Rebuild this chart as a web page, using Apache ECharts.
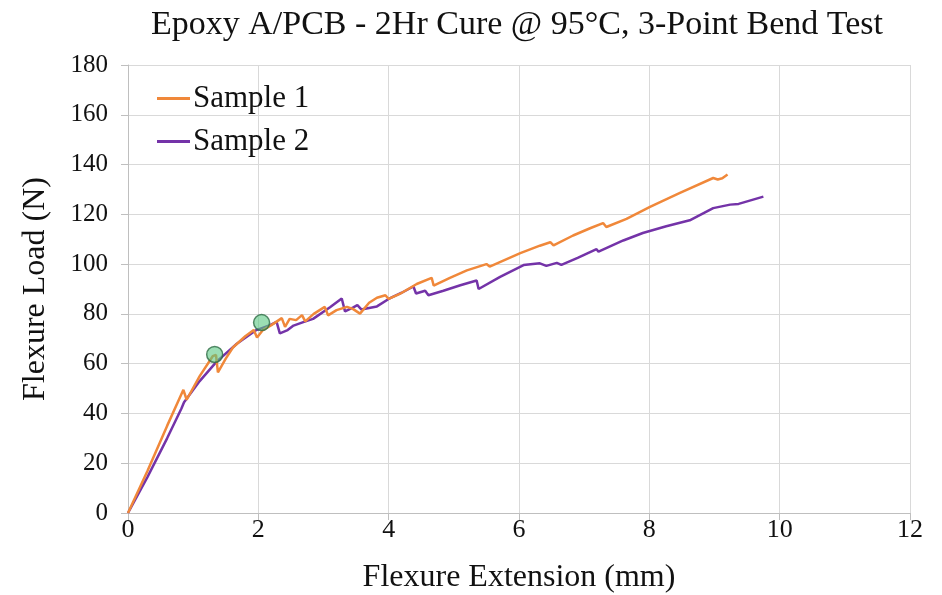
<!DOCTYPE html>
<html>
<head>
<meta charset="utf-8">
<script src="https://cdn.jsdelivr.net/npm/echarts@6/dist/echarts.min.js"></script>
<style>
  html, body { margin: 0; padding: 0; background: #fff; }
  #chart { width: 942px; height: 595px; }
</style>
</head>
<body>
<div id="chart"></div>
<script>
// [extension mm, load N]
var sample1 = [
  [0, 0], [0.3, 17], [0.6, 35], [0.85, 49.5], [0.9, 45.5], [1.1, 55], [1.3, 63], [1.35, 63.5],
  [1.38, 56.5], [1.5, 62], [1.61, 66.5], [1.8, 71], [1.93, 73.5], [1.98, 70.5], [2.07, 73.5],
  [2.2, 75.5], [2.36, 78.3], [2.41, 74.8], [2.48, 78], [2.58, 77.5], [2.67, 79.5], [2.72, 77],
  [2.85, 80], [3.02, 82.8], [3.07, 79.4], [3.2, 81.5], [3.36, 82.8], [3.45, 82], [3.56, 80.1],
  [3.7, 84.5], [3.82, 86.5], [3.95, 87.5], [4.0, 86], [4.17, 88], [4.43, 92], [4.66, 94.5],
  [4.69, 91.4], [4.94, 94.5], [5.2, 97.5], [5.5, 100], [5.55, 99], [6.02, 104.4], [6.32, 107.4],
  [6.48, 108.8], [6.53, 107.5], [6.83, 111.5], [7.1, 114.5], [7.29, 116.5], [7.34, 114.9],
  [7.65, 118.2], [8.01, 123], [8.47, 128.6], [8.98, 134.6], [9.05, 134], [9.12, 134.5], [9.2, 136]
];
var sample2 = [
  [0, 0], [0.3, 14.5], [0.6, 30], [0.82, 42], [0.86, 44.5], [1.1, 53], [1.36, 60.8], [1.67, 68],
  [1.97, 73.5], [2.18, 75.5], [2.28, 76.8], [2.33, 72.2], [2.45, 73.5], [2.54, 75.3], [2.69, 76.7],
  [2.84, 78], [3.1, 82.7], [3.28, 86.2], [3.33, 81], [3.45, 82.5], [3.52, 83.5], [3.58, 81.8],
  [3.82, 83], [4.0, 86], [4.2, 88.5], [4.38, 91], [4.42, 88.2], [4.56, 89.3], [4.61, 87.5],
  [4.84, 89.3], [5.1, 91.5], [5.35, 93.4], [5.38, 90], [5.71, 94.9], [6.07, 99.6], [6.32, 100.3],
  [6.42, 99.3], [6.58, 100.5], [6.65, 99.7], [6.9, 102.5], [7.19, 106], [7.22, 105], [7.6, 109.5],
  [7.9, 112.5], [8.26, 115.2], [8.47, 116.6], [8.62, 117.6], [8.98, 122.5], [9.24, 123.9],
  [9.37, 124.2], [9.75, 127.1]
];
var marks = [[1.33, 63.7], [2.05, 76.5]];

var seriesNames = ['Sample 1', 'Sample 2'];
var xTicks = { min: 0, max: 12, interval: 2 };
var yTicks = { min: 0, max: 180, interval: 20 };

var serif = '"Liberation Serif", "DejaVu Serif", serif';
var chart = echarts.init(document.getElementById('chart'));

chart.setOption({
  animation: false,
  backgroundColor: '#fff',
  title: {
    text: 'Epoxy A/PCB - 2Hr Cure @ 95°C, 3-Point Bend Test',
    left: 146,
    top: 3,
    textStyle: { fontFamily: serif, fontSize: 34, fontWeight: 'normal', color: '#111' }
  },
  legend: {
    data: seriesNames,
    orient: 'vertical',
    left: 152,
    top: 78,
    itemWidth: 33,
    itemHeight: 3,
    itemGap: 12,
    icon: 'rect',
    textStyle: { fontFamily: serif, fontSize: 31, color: '#111', padding: [0, 0, 0, -2] }
  },
  grid: { left: 128, right: 32, top: 65, bottom: 82, outerBoundsMode: 'none' },
  xAxis: {
    type: 'value',
    min: xTicks.min, max: xTicks.max, interval: xTicks.interval,
    name: 'Flexure Extension (mm)',
    nameLocation: 'middle',
    nameGap: 49,
    nameTextStyle: { fontFamily: serif, fontSize: 32, color: '#111' },
    axisLine: { show: true, lineStyle: { color: '#bfbfbf', width: 1 } },
    axisTick: { show: true, length: 7, lineStyle: { color: '#bfbfbf' } },
    axisLabel: { fontFamily: serif, fontSize: 26, color: '#111', margin: 4 },
    splitLine: { show: true, lineStyle: { color: '#d9d9d9', width: 1 } }
  },
  yAxis: {
    type: 'value',
    min: yTicks.min, max: yTicks.max, interval: yTicks.interval,
    name: 'Flexure Load (N)',
    nameLocation: 'middle',
    nameGap: 76,
    nameTextStyle: { fontFamily: serif, fontSize: 32, color: '#111' },
    axisLine: { show: true, lineStyle: { color: '#bfbfbf', width: 1 } },
    axisTick: { show: true, length: 7, lineStyle: { color: '#bfbfbf' } },
    axisLabel: { fontFamily: serif, fontSize: 25, color: '#111', margin: 20 },
    splitLine: { show: true, lineStyle: { color: '#d9d9d9', width: 1 } }
  },
  series: [
    {
      name: seriesNames[0],
      type: 'line',
      data: sample1,
      showSymbol: false,
      color: '#f0883a',
      lineStyle: { width: 2.5 },
      z: 3
    },
    {
      name: seriesNames[1],
      type: 'line',
      data: sample2,
      showSymbol: false,
      color: '#7433a8',
      lineStyle: { width: 2.5 },
      z: 2
    },
    {
      type: 'scatter',
      data: marks,
      symbolSize: 16,
      itemStyle: { color: 'rgba(90, 200, 130, 0.75)', borderColor: '#2e6b45', borderWidth: 1.5 },
      z: 4
    }
  ]
});
</script>
</body>
</html>
